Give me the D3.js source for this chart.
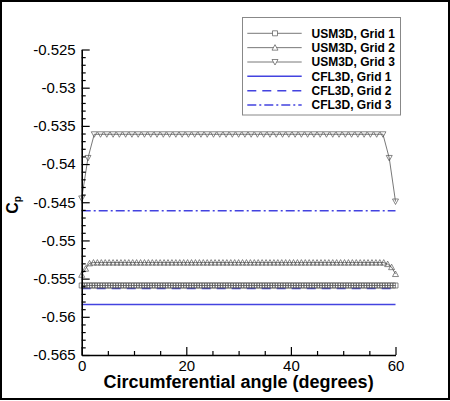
<!DOCTYPE html>
<html><head><meta charset="utf-8">
<script src="https://cdn.jsdelivr.net/npm/d3@7"></script>
<style>body{margin:0;background:#fff}svg{display:block}</style>
</head><body><svg id="c" width="450" height="401"></svg>
<script>
// ---- data ----
const xTicks = [0, 20, 40, 60];
const xTickLabels = ["0", "20", "40", "60"];
const xMinor = [5, 10, 15, 25, 30, 35, 45, 50, 55];
const yTicks = [-0.525, -0.53, -0.535, -0.54, -0.545, -0.55, -0.555, -0.56, -0.565];
const yTickLabels = ["-0.525", "-0.53", "-0.535", "-0.54", "-0.545", "-0.55", "-0.555", "-0.56", "-0.565"];
const yMinor = [-0.526,-0.527,-0.528,-0.529,-0.531,-0.532,-0.533,-0.534,-0.536,-0.537,-0.538,-0.539,
  -0.541,-0.542,-0.543,-0.544,-0.546,-0.547,-0.548,-0.549,-0.551,-0.552,-0.553,-0.554,
  -0.556,-0.557,-0.558,-0.559,-0.561,-0.562,-0.563,-0.564];

const usmGrid1Angle = [0,0.5,1,1.5,2,2.5,3,3.5,4,4.5,5,5.5,6,6.5,7,7.5,8,8.5,9,9.5,10,10.5,11,11.5,12,12.5,13,13.5,14,14.5,15,15.5,16,16.5,17,17.5,18,18.5,19,19.5,20,20.5,21,21.5,22,22.5,23,23.5,24,24.5,25,25.5,26,26.5,27,27.5,28,28.5,29,29.5,30,30.5,31,31.5,32,32.5,33,33.5,34,34.5,35,35.5,36,36.5,37,37.5,38,38.5,39,39.5,40,40.5,41,41.5,42,42.5,43,43.5,44,44.5,45,45.5,46,46.5,47,47.5,48,48.5,49,49.5,50,50.5,51,51.5,52,52.5,53,53.5,54,54.5,55,55.5,56,56.5,57,57.5,58,58.5,59,59.5,60];
const usmGrid1Cp = [
 -0.5559,-0.5559,-0.5559,-0.5559,-0.5559,-0.5559,-0.5559,-0.5559,-0.5559,-0.5559,
 -0.5559,-0.5559,-0.5559,-0.5559,-0.5559,-0.5559,-0.5559,-0.5559,-0.5559,-0.5559,
 -0.5559,-0.5559,-0.5559,-0.5559,-0.5559,-0.5559,-0.5559,-0.5559,-0.5559,-0.5559,
 -0.5559,-0.5559,-0.5559,-0.5559,-0.5559,-0.5559,-0.5559,-0.5559,-0.5559,-0.5559,
 -0.5559,-0.5559,-0.5559,-0.5559,-0.5559,-0.5559,-0.5559,-0.5559,-0.5559,-0.5559,
 -0.5559,-0.5559,-0.5559,-0.5559,-0.5559,-0.5559,-0.5559,-0.5559,-0.5559,-0.5559,
 -0.5559,-0.5559,-0.5559,-0.5559,-0.5559,-0.5559,-0.5559,-0.5559,-0.5559,-0.5559,
 -0.5559,-0.5559,-0.5559,-0.5559,-0.5559,-0.5559,-0.5559,-0.5559,-0.5559,-0.5559,
 -0.5559,-0.5559,-0.5559,-0.5559,-0.5559,-0.5559,-0.5559,-0.5559,-0.5559,-0.5559,
 -0.5559,-0.5559,-0.5559,-0.5559,-0.5559,-0.5559,-0.5559,-0.5559,-0.5559,-0.5559,
 -0.5559,-0.5559,-0.5559,-0.5559,-0.5559,-0.5559,-0.5559,-0.5559,-0.5559,-0.5559,
 -0.5559,-0.5559,-0.5559,-0.5559,-0.5559,-0.5559,-0.5559,-0.5559,-0.5559,-0.5559,
 -0.5559];

const usmGrid2Angle = [0,0.75,1.5,2.25,3,3.75,4.5,5.25,6,6.75,7.5,8.25,9,9.75,10.5,11.25,12,12.75,13.5,14.25,15,15.75,16.5,17.25,18,18.75,19.5,20.25,21,21.75,22.5,23.25,24,24.75,25.5,26.25,27,27.75,28.5,29.25,30,30.75,31.5,32.25,33,33.75,34.5,35.25,36,36.75,37.5,38.25,39,39.75,40.5,41.25,42,42.75,43.5,44.25,45,45.75,46.5,47.25,48,48.75,49.5,50.25,51,51.75,52.5,53.25,54,54.75,55.5,56.25,57,57.75,58.5,59.25,60];
const usmGrid2Cp = [
 -0.5545,-0.5537,-0.5530,
 -0.5529,-0.5529,-0.5529,-0.5529,-0.5529,-0.5529,-0.5529,-0.5529,-0.5529,-0.5529,
 -0.5529,-0.5529,-0.5529,-0.5529,-0.5529,-0.5529,-0.5529,-0.5529,-0.5529,-0.5529,
 -0.5529,-0.5529,-0.5529,-0.5529,-0.5529,-0.5529,-0.5529,-0.5529,-0.5529,-0.5529,
 -0.5529,-0.5529,-0.5529,-0.5529,-0.5529,-0.5529,-0.5529,-0.5529,-0.5529,-0.5529,
 -0.5529,-0.5529,-0.5529,-0.5529,-0.5529,-0.5529,-0.5529,-0.5529,-0.5529,-0.5529,
 -0.5529,-0.5529,-0.5529,-0.5529,-0.5529,-0.5529,-0.5529,-0.5529,-0.5529,-0.5529,
 -0.5529,-0.5529,-0.5529,-0.5529,-0.5529,-0.5529,-0.5529,-0.5529,-0.5529,-0.5529,
 -0.5529,-0.5529,-0.5529,-0.5529,-0.5529,
 -0.5531,-0.5535,-0.5544];

const usmGrid3Angle = [0,1.2,2.4,3.6,4.8,6,7.2,8.4,9.6,10.8,12,13.2,14.4,15.6,16.8,18,19.2,20.4,21.6,22.8,24,25.2,26.4,27.6,28.8,30,31.2,32.4,33.6,34.8,36,37.2,38.4,39.6,40.8,42,43.2,44.4,45.6,46.8,48,49.2,50.4,51.6,52.8,54,55.2,56.4,57.6,58.8,60];
const usmGrid3Cp = [
 -0.5445,-0.5392,
 -0.5361,-0.5361,-0.5361,-0.5361,-0.5361,-0.5361,-0.5361,-0.5361,-0.5361,-0.5361,
 -0.5361,-0.5361,-0.5361,-0.5361,-0.5361,-0.5361,-0.5361,-0.5361,-0.5361,-0.5361,
 -0.5361,-0.5361,-0.5361,-0.5361,-0.5361,-0.5361,-0.5361,-0.5361,-0.5361,-0.5361,
 -0.5361,-0.5361,-0.5361,-0.5361,-0.5361,-0.5361,-0.5361,-0.5361,-0.5361,-0.5361,
 -0.5361,-0.5361,-0.5361,-0.5361,-0.5361,-0.5361,-0.5361,
 -0.5392,-0.5449];

const cflAngle = [0, 60];
const cflGrid1Cp = [-0.5584, -0.5584];
const cflGrid2Cp = [-0.5563, -0.5563];
const cflGrid3Cp = [-0.5461, -0.5461];

const legendLabels = ["USM3D, Grid 1", "USM3D, Grid 2", "USM3D, Grid 3", "CFL3D, Grid 1", "CFL3D, Grid 2", "CFL3D, Grid 3"];

// ---- drawing ----
const svg = d3.select("#c");
const FONT = "'Liberation Sans', Arial, Helvetica, sans-serif";
const BLUE = "#4343e0";
const GRAY = "#555";

svg.append("rect").attr("x", 1).attr("y", 1).attr("width", 448).attr("height", 398)
  .attr("fill", "#fff").attr("stroke", "#000").attr("stroke-width", 2);

const x = d3.scaleLinear().domain([0, 60]).range([81.7, 395.5]);
const y = d3.scaleLinear().domain([-0.565, -0.525]).range([355, 49.5]);

const zip = (a, b) => a.map((v, i) => [v, b[i]]).filter(d => d[1] !== undefined);
const line = d3.line().x(d => x(d[0])).y(d => y(d[1]));

const plot = svg.append("g");

// CFL3D lines
const cfl = [
  {v: cflGrid1Cp, dash: null},
  {v: cflGrid2Cp, dash: "9,6"},
  {v: cflGrid3Cp, dash: "9,3,2,3"}
];
cfl.forEach(s => {
  plot.append("path").datum(zip(cflAngle, s.v)).attr("d", line)
    .attr("fill", "none").attr("stroke", BLUE).attr("stroke-width", 1.5)
    .attr("stroke-dasharray", s.dash);
});

const sq = "M-2.5,-2.5H2.5V2.5H-2.5Z";
const up = "M0,-3L3,2.5L-3,2.5Z";
const dn = "M0,3L3,-2.5L-3,-2.5Z";
const usm = [
  {a: usmGrid1Angle, v: usmGrid1Cp, m: sq},
  {a: usmGrid2Angle, v: usmGrid2Cp, m: up},
  {a: usmGrid3Angle, v: usmGrid3Cp, m: dn}
];
usm.forEach(s => {
  const pts = zip(s.a, s.v);
  plot.append("path").datum(pts).attr("d", line)
    .attr("fill", "none").attr("stroke", GRAY).attr("stroke-width", 0.8);
  plot.append("g").selectAll("path").data(pts).join("path")
    .attr("d", s.m)
    .attr("transform", d => `translate(${x(d[0])},${y(d[1])})`)
    .attr("fill", "none").attr("stroke", GRAY).attr("stroke-width", 0.7);
});

// axes
const xAxis = svg.append("g").attr("transform", `translate(0,${y(-0.565)})`)
  .call(d3.axisBottom(x).tickValues(xTicks).tickFormat((d, i) => xTickLabels[i])
    .tickSize(-8).tickSizeOuter(0).tickPadding(5));
svg.append("g").attr("transform", `translate(0,${y(-0.565)})`)
  .call(d3.axisBottom(x).tickValues(xMinor).tickFormat("").tickSize(-4).tickSizeOuter(0))
  .select(".domain").remove();
const yAxis = svg.append("g").attr("transform", `translate(${x(0)},0)`)
  .call(d3.axisLeft(y).tickValues(yTicks).tickFormat((d, i) => yTickLabels[i])
    .tickSize(-8).tickSizeOuter(0).tickPadding(6));
svg.append("g").attr("transform", `translate(${x(0)},0)`)
  .call(d3.axisLeft(y).tickValues(yMinor).tickFormat("").tickSize(-4).tickSizeOuter(0))
  .select(".domain").remove();

svg.selectAll(".tick text").attr("font-family", FONT).attr("font-size", 15).attr("fill", "#000");
svg.selectAll(".domain").attr("stroke", "#000").attr("stroke-width", 1.6);
svg.selectAll(".tick line").attr("stroke", "#000").attr("stroke-width", 1.2);

// axis titles
svg.append("text").attr("x", 238.6).attr("y", 388).attr("text-anchor", "middle")
  .attr("font-family", FONT).attr("font-weight", "bold").attr("font-size", 18)
  .text("Circumferential angle (degrees)");
const yl = svg.append("text").attr("transform", "translate(18,205) rotate(-90)")
  .attr("text-anchor", "middle").attr("font-family", FONT).attr("font-weight", "bold").attr("font-size", 16);
yl.append("tspan").text("C");
yl.append("tspan").attr("font-size", 10).attr("dy", 3).text("p");

// legend
const lg = svg.append("g");
lg.append("rect").attr("x", 242.5).attr("y", 17.5).attr("width", 158).attr("height", 97.5)
  .attr("fill", "#fff").attr("stroke", "#888").attr("stroke-width", 1);
const legendStyles = [
  {c: GRAY, dash: null, m: sq, w: 0.8},
  {c: GRAY, dash: null, m: up, w: 0.8},
  {c: GRAY, dash: null, m: dn, w: 0.8},
  {c: BLUE, dash: null, m: null, w: 1.5},
  {c: BLUE, dash: "9,6", m: null, w: 1.5},
  {c: BLUE, dash: "9,3,2,3", m: null, w: 1.5}
];
legendLabels.forEach((lab, i) => {
  const yy = 33.3 + i * 14.35;
  const st = legendStyles[i];
  lg.append("line").attr("x1", 247.3).attr("x2", 301.7).attr("y1", yy).attr("y2", yy)
    .attr("stroke", st.c).attr("stroke-width", st.w).attr("stroke-dasharray", st.dash);
  if (st.m) lg.append("path").attr("d", st.m).attr("transform", `translate(275,${yy})`)
    .attr("fill", "#fff").attr("stroke", GRAY).attr("stroke-width", 0.7);
  lg.append("text").attr("x", 311.5).attr("y", yy).attr("dy", "0.36em")
    .attr("font-family", FONT).attr("font-weight", "bold").attr("font-size", 12).text(lab);
});
</script></body></html>
